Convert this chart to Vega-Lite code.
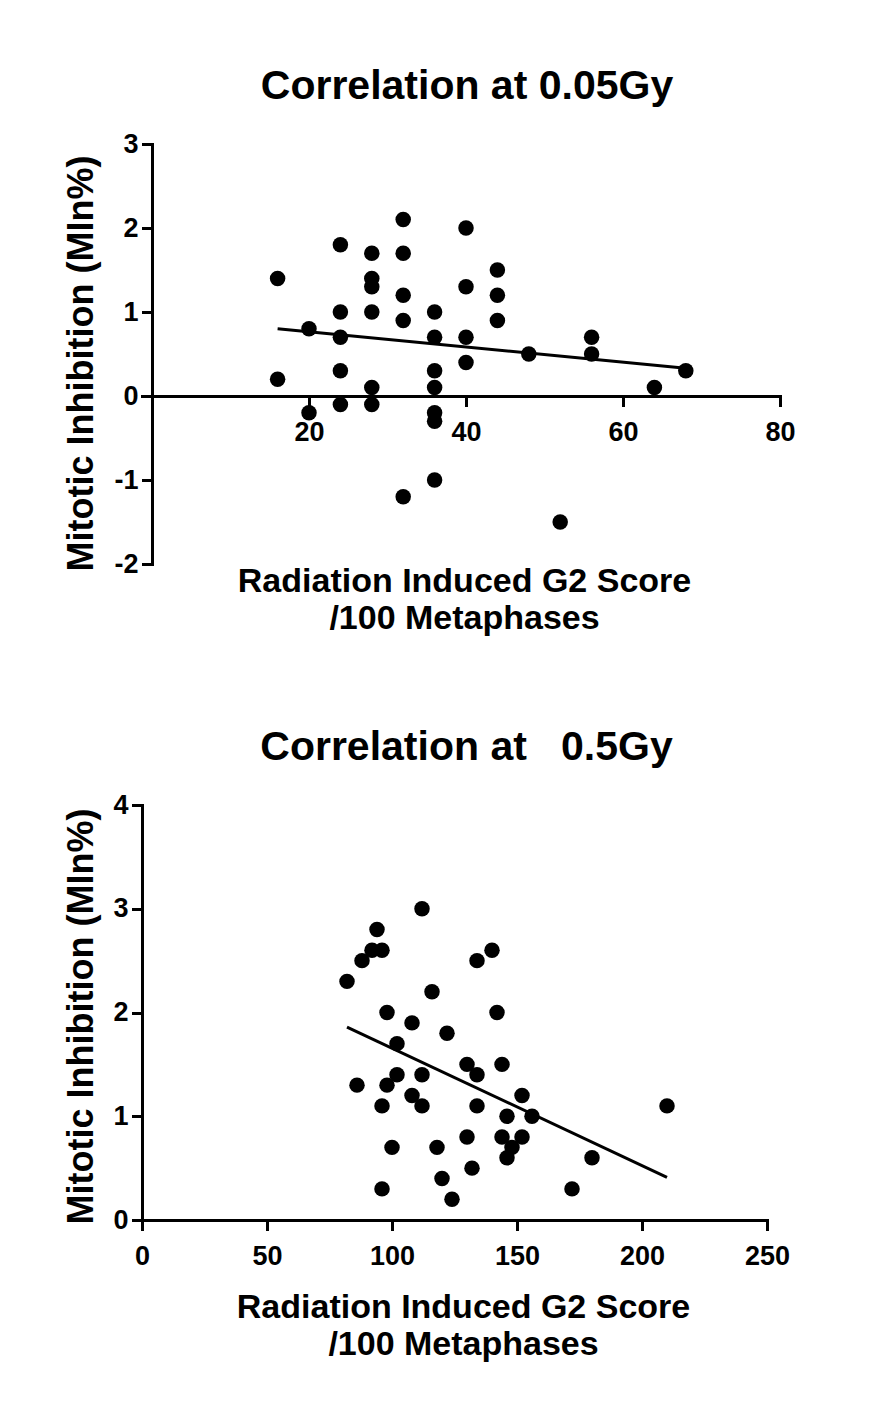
{
  "$schema": "https://vega.github.io/schema/vega-lite/v6.json",
  "background": "white",
  "padding": {"left": 62, "top": 66, "right": 10, "bottom": 10},
  "datasets": {
    "low": [
      {"g2": 16, "mi": 1.4}, {"g2": 16, "mi": 0.2},
      {"g2": 20, "mi": 0.8}, {"g2": 20, "mi": -0.2},
      {"g2": 24, "mi": 1.8}, {"g2": 24, "mi": 1.0}, {"g2": 24, "mi": 0.7}, {"g2": 24, "mi": 0.3}, {"g2": 24, "mi": -0.1},
      {"g2": 28, "mi": 1.7}, {"g2": 28, "mi": 1.4}, {"g2": 28, "mi": 1.3}, {"g2": 28, "mi": 1.0}, {"g2": 28, "mi": 0.1}, {"g2": 28, "mi": -0.1},
      {"g2": 32, "mi": 2.1}, {"g2": 32, "mi": 1.7}, {"g2": 32, "mi": 1.2}, {"g2": 32, "mi": 0.9}, {"g2": 32, "mi": -1.2},
      {"g2": 36, "mi": 1.0}, {"g2": 36, "mi": 0.7}, {"g2": 36, "mi": 0.3}, {"g2": 36, "mi": 0.1}, {"g2": 36, "mi": -0.2}, {"g2": 36, "mi": -0.3}, {"g2": 36, "mi": -1.0},
      {"g2": 40, "mi": 2.0}, {"g2": 40, "mi": 1.3}, {"g2": 40, "mi": 0.7}, {"g2": 40, "mi": 0.4},
      {"g2": 44, "mi": 1.5}, {"g2": 44, "mi": 1.2}, {"g2": 44, "mi": 0.9},
      {"g2": 48, "mi": 0.5}, {"g2": 52, "mi": -1.5},
      {"g2": 56, "mi": 0.7}, {"g2": 56, "mi": 0.5},
      {"g2": 64, "mi": 0.1}, {"g2": 68, "mi": 0.3}
    ],
    "lowFit": [{"g2": 16, "mi": 0.80}, {"g2": 68, "mi": 0.33}],
    "high": [
      {"g2": 112, "mi": 3.0}, {"g2": 94, "mi": 2.8}, {"g2": 92, "mi": 2.6}, {"g2": 96, "mi": 2.6},
      {"g2": 88, "mi": 2.5}, {"g2": 82, "mi": 2.3}, {"g2": 134, "mi": 2.5}, {"g2": 140, "mi": 2.6},
      {"g2": 116, "mi": 2.2}, {"g2": 98, "mi": 2.0}, {"g2": 142, "mi": 2.0}, {"g2": 108, "mi": 1.9},
      {"g2": 122, "mi": 1.8}, {"g2": 102, "mi": 1.7}, {"g2": 130, "mi": 1.5}, {"g2": 144, "mi": 1.5},
      {"g2": 102, "mi": 1.4}, {"g2": 112, "mi": 1.4}, {"g2": 134, "mi": 1.4}, {"g2": 86, "mi": 1.3},
      {"g2": 98, "mi": 1.3}, {"g2": 108, "mi": 1.2}, {"g2": 152, "mi": 1.2}, {"g2": 96, "mi": 1.1},
      {"g2": 112, "mi": 1.1}, {"g2": 134, "mi": 1.1}, {"g2": 210, "mi": 1.1}, {"g2": 146, "mi": 1.0},
      {"g2": 156, "mi": 1.0}, {"g2": 130, "mi": 0.8}, {"g2": 144, "mi": 0.8}, {"g2": 152, "mi": 0.8},
      {"g2": 148, "mi": 0.7}, {"g2": 100, "mi": 0.7}, {"g2": 118, "mi": 0.7}, {"g2": 146, "mi": 0.6},
      {"g2": 180, "mi": 0.6}, {"g2": 132, "mi": 0.5}, {"g2": 120, "mi": 0.4}, {"g2": 96, "mi": 0.3},
      {"g2": 172, "mi": 0.3}, {"g2": 124, "mi": 0.2}
    ],
    "highFit": [{"g2": 82, "mi": 1.86}, {"g2": 210, "mi": 0.41}]
  },
  "config": {
    "font": "Liberation Sans",
    "view": {"stroke": null},
    "axis": {
      "grid": false,
      "domainColor": "black", "domainWidth": 3, "domainCap": "square",
      "tickColor": "black", "tickWidth": 3, "tickSize": 9, "tickCap": "square",
      "labelFont": "Liberation Sans", "labelFontWeight": "bold", "labelFontSize": 27, "labelColor": "black",
      "labelFlush": false, "labelOverlap": false,
      "labelExpr": "'' + datum.value",
      "titleFont": "Liberation Sans", "titleFontWeight": "bold", "titleColor": "black",
      "titleLineHeight": 37
    },
    "axisX": {"labelPadding": 14, "titleFontSize": 34},
    "axisY": {"labelPadding": 5, "titleFontSize": 36},
    "title": {"font": "Liberation Sans", "fontSize": 41, "fontWeight": "bold", "color": "black", "anchor": "middle", "frame": "group", "offset": 22}
  },
  "columns": 1,
  "align": "none",
  "spacing": 92,
  "concat": [
    {
      "title": {"text": "Correlation at 0.05Gy", "dx": 6},
      "width": 638,
      "height": 420,
      "layer": [
        {
          "data": {"name": "low"},
          "mark": {"type": "point", "filled": true, "shape": "circle", "size": 240, "color": "black", "opacity": 1},
          "encoding": {
            "x": {"field": "g2", "type": "quantitative",
                  "scale": {"domain": [-1.274, 80], "nice": false, "zero": false},
                  "axis": {"values": [20, 40, 60, 80], "offset": -168,
                           "title": ["Radiation Induced G2 Score", "/100 Metaphases"],
                           "titleX": 322, "titleY": 195, "titleBaseline": "alphabetic"}},
            "y": {"field": "mi", "type": "quantitative",
                  "scale": {"domain": [-2, 3], "nice": false, "zero": false},
                  "axis": {"values": [-2, -1, 0, 1, 2, 3], "title": "Mitotic Inhibition (MIn%)",
                           "offset": -10, "titleX": -71, "titleY": 219, "titleBaseline": "middle"}}
          }
        },
        {
          "data": {"name": "lowFit"},
          "mark": {"type": "line", "color": "black", "strokeWidth": 3},
          "encoding": {
            "x": {"field": "g2", "type": "quantitative"},
            "y": {"field": "mi", "type": "quantitative"}
          }
        }
      ]
    },
    {
      "title": {"text": "Correlation at \u00a0\u00a00.5Gy", "dx": 12},
      "width": 625,
      "height": 415,
      "layer": [
        {
          "data": {"name": "high"},
          "mark": {"type": "point", "filled": true, "shape": "circle", "size": 240, "color": "black", "opacity": 1},
          "encoding": {
            "x": {"field": "g2", "type": "quantitative",
                  "scale": {"domain": [0, 250], "nice": false, "zero": false},
                  "axis": {"values": [0, 50, 100, 150, 200, 250],
                           "title": ["Radiation Induced G2 Score", "/100 Metaphases"],
                           "titleX": 321, "titleY": 97, "titleBaseline": "alphabetic"}},
            "y": {"field": "mi", "type": "quantitative",
                  "scale": {"domain": [0, 4], "nice": false, "zero": false},
                  "axis": {"values": [0, 1, 2, 3, 4], "title": "Mitotic Inhibition (MIn%)",
                           "titleX": -61, "titleY": 211, "titleBaseline": "middle"}}
          }
        },
        {
          "data": {"name": "highFit"},
          "mark": {"type": "line", "color": "black", "strokeWidth": 3},
          "encoding": {
            "x": {"field": "g2", "type": "quantitative"},
            "y": {"field": "mi", "type": "quantitative"}
          }
        }
      ]
    }
  ]
}
